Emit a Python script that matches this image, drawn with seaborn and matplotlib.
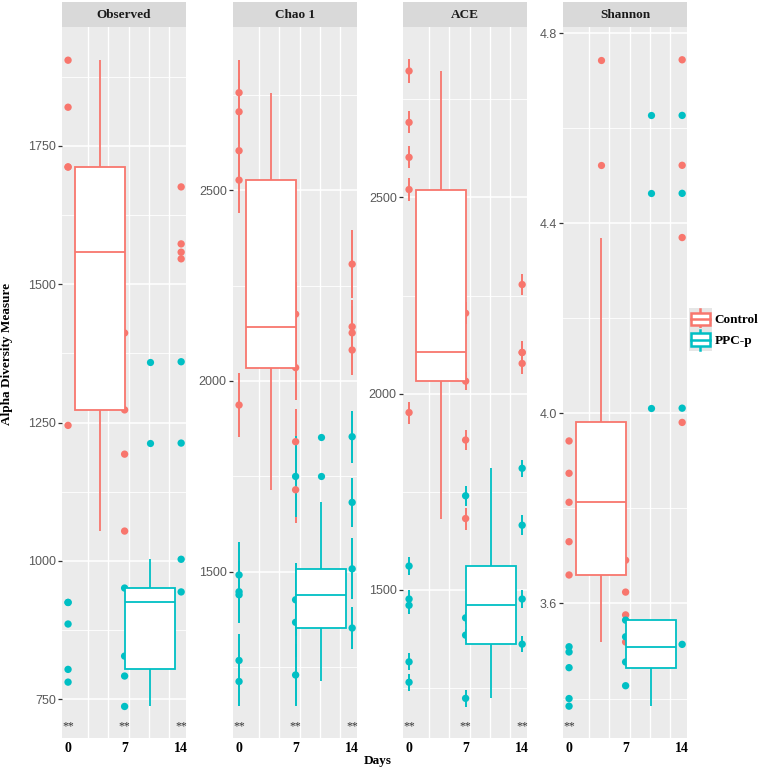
import numpy as np
import pandas as pd
import matplotlib
matplotlib.use("Agg")
import matplotlib.pyplot as plt
import seaborn as sns
from matplotlib.legend_handler import HandlerBase
from matplotlib.patches import Rectangle, Patch
from matplotlib.lines import Line2D
from matplotlib.ticker import MultipleLocator

# ---------------- data ----------------
panels = ["Observed", "Chao 1", "ACE", "Shannon"]
treatments = ["Control", "PPC-p"]
days = [0, 0, 0, 0, 0, 7, 7, 7, 7, 14, 14, 14, 14]

observed_control = [1905, 1820, 1712, 1712, 1245, 1412, 1273, 1193, 1054, 1676, 1573, 1558, 1546]
observed_ppc = [925, 925, 886, 804, 781, 951, 828, 792, 737, 1360, 1213, 1003, 944]

chao1_control = [2755, 2705, 2603, 2526, 1937, 2175, 2035, 1841, 1715, 2306, 2142, 2126, 2081]
chao1_control_se = [85, 85, 85, 85, 85, 85, 85, 85, 87, 90, 70, 70, 65]
chao1_ppc = [1492, 1448, 1440, 1268, 1213, 1750, 1427, 1368, 1230, 1854, 1682, 1508, 1353]
chao1_ppc_se = [87, 80, 74, 70, 64, 105, 95, 90, 80, 68, 65, 80, 55]

ace_control = [2822, 2691, 2602, 2520, 1952, 2205, 2032, 1882, 1682, 2278, 2105, 2105, 2077]
ace_control_se = [30, 28, 28, 30, 28, 28, 22, 25, 28, 27, 28, 28, 28]
ace_ppc = [1561, 1477, 1461, 1317, 1265, 1740, 1429, 1385, 1224, 1810, 1665, 1477, 1362]
ace_ppc_se = [22, 22, 22, 22, 22, 25, 15, 15, 22, 22, 25, 22, 20]

shannon_control = [3.942, 3.874, 3.813, 3.730, 3.660, 3.691, 3.624, 3.576, 3.519, 4.744, 4.522, 4.370, 3.981]
shannon_ppc = [3.509, 3.498, 3.465, 3.400, 3.384, 3.565, 3.530, 3.477, 3.427, 4.627, 4.463, 4.011, 3.514]

significance_days = {
    "Observed": [0, 7, 14],
    "Chao 1": [0, 7, 14],
    "ACE": [0, 7, 14],
    "Shannon": [0],
}
xtick_days = [0, 7, 14]

values = {
    "Observed": (observed_control, observed_ppc, None, None),
    "Chao 1": (chao1_control, chao1_ppc, chao1_control_se, chao1_ppc_se),
    "ACE": (ace_control, ace_ppc, ace_control_se, ace_ppc_se),
    "Shannon": (shannon_control, shannon_ppc, None, None),
}

# ---------------- layout / style ----------------
palette = {"Control": "#F8766D", "PPC-p": "#00BFC4"}
box_center = {"Control": 3.95, "PPC-p": 10.15}
box_width = 6.2
ylims = {"Observed": (680, 1965), "Chao 1": (1065, 2927), "ACE": (1123, 2934), "Shannon": (3.317, 4.813)}
ysteps = {"Observed": 250, "Chao 1": 500, "ACE": 500, "Shannon": 0.4}
yfmt = {"Observed": "{:.0f}", "Chao 1": "{:.0f}", "ACE": "{:.0f}", "Shannon": "{:.1f}"}

rows = []
for p in panels:
    c, t, cse, tse = values[p]
    for tr, vals, se in (("Control", c, cse), ("PPC-p", t, tse)):
        for i, v in enumerate(vals):
            rows.append(dict(panel=p, Treatment=tr, Day=days[i], value=v,
                             se=(se[i] if se is not None else np.nan),
                             BoxPos=box_center[tr]))
df = pd.DataFrame(rows)

W, H = 760, 769
fig = plt.figure(figsize=(W / 100, H / 100), dpi=100)
fig.patch.set_facecolor("white")

SERIF = ["Liberation Serif", "DejaVu Serif"]
SANS = ["Liberation Sans", "DejaVu Sans"]

lefts = [62, 233, 403, 563]
pw = 124
ptop, pbot = 27, 738
strip_top = 2

for p, lpx in zip(panels, lefts):
    ax = fig.add_axes([lpx / W, 1 - pbot / H, pw / W, (pbot - ptop) / H])
    ax.set_facecolor("#EBEBEB")
    ax.set_axisbelow(True)
    d = df[df.panel == p]

    # error bars (standard error of richness estimates)
    for tr in treatments:
        s = d[(d.Treatment == tr) & d.se.notna()]
        if len(s):
            ax.vlines(s.Day, s.value - s.se, s.value + s.se, color=palette[tr], lw=1.4, zorder=1)

    sns.scatterplot(data=d, x="Day", y="value", hue="Treatment", palette=palette,
                    s=28, linewidth=0, legend=False, ax=ax, zorder=1)

    for tr in treatments:
        sub = d[d.Treatment == tr]
        sns.boxplot(data=sub, x="BoxPos", y="value", native_scale=True, width=box_width,
                    color="white", saturation=1, linecolor=palette[tr], linewidth=1.3,
                    showcaps=False,
                    flierprops=dict(marker="o", markersize=5.2, markerfacecolor=palette[tr],
                                    markeredgecolor=palette[tr], markeredgewidth=0),
                    ax=ax)

    ax.set_xlim(-0.75, 14.6)
    ax.set_ylim(*ylims[p])

    # grid
    ax.set_xticks(xtick_days)
    ax.set_xticklabels([str(x) for x in xtick_days], fontfamily=SERIF, fontweight="bold",
                       fontsize=10, color="black")
    ax.set_xticks(np.arange(0, 13, 2.5), minor=True)
    step = ysteps[p]
    ax.yaxis.set_major_locator(MultipleLocator(step))
    ax.yaxis.set_minor_locator(MultipleLocator(step / 2))
    lo, hi = ylims[p]
    yt = [v for v in ax.get_yticks() if lo <= v <= hi]
    ax.set_yticks(yt)
    ax.set_yticklabels([yfmt[p].format(v) for v in yt], fontfamily=SANS, fontsize=9, color="#595959")
    ax.grid(False)
    ax.grid(True, which="minor", axis="x", color="white", lw=1.0)
    ax.grid(True, which="major", axis="y", color="white", lw=1.1)
    ax.grid(True, which="minor", axis="y", color="white", lw=0.6)
    ax.tick_params(axis="x", which="both", length=0, pad=3)
    ax.tick_params(axis="y", which="major", length=3, width=0.9, color="#333333", pad=1.5)
    ax.tick_params(axis="y", which="minor", length=0)
    for sp in ax.spines.values():
        sp.set_visible(False)
    ax.set_xlabel("")
    ax.set_ylabel("")

    # significance marks
    for dday in significance_days[p]:
        ax.text(dday, 0.016, "**", transform=ax.get_xaxis_transform(), ha="center", va="center",
                fontsize=8.5, fontfamily=SERIF, color="#333333")

    # facet strip
    sax = fig.add_axes([lpx / W, 1 - ptop / H, pw / W, (ptop - strip_top) / H])
    sax.set_facecolor("#D9D9D9")
    sax.set_xticks([])
    sax.set_yticks([])
    for sp in sax.spines.values():
        sp.set_visible(False)
    sax.text(0.5, 0.5, p, ha="center", va="center", fontsize=9.5, fontweight="bold",
             fontfamily=SERIF, color="#1A1A1A", transform=sax.transAxes)

fig.text(7 / W, 1 - 354 / H, "Alpha Diversity Measure", rotation=90, ha="center", va="center",
         fontsize=9.5, fontweight="bold", fontfamily=SERIF)
fig.text(378 / W, 1 - 761 / H, "Days", ha="center", va="center",
         fontsize=9.5, fontweight="bold", fontfamily=SERIF)


class BoxKeyHandler(HandlerBase):
    def create_artists(self, legend, orig_handle, xdescent, ydescent, width, height, fontsize, trans):
        c = orig_handle.get_edgecolor()
        # ggplot-style square key, centred on the text line
        size = 16.5
        x0 = -xdescent
        yc = -ydescent + height / 2
        y0 = yc - size / 2
        bg = Rectangle((x0, y0), size, size, facecolor="#E6E6E6", edgecolor="none", transform=trans)
        cx = x0 + size / 2
        wh = Line2D([cx, cx], [y0 + size * 0.06, y0 + size * 0.94], color=c, lw=1.8, transform=trans)
        box = Rectangle((x0 + size * 0.1, y0 + size * 0.22), size * 0.8, size * 0.56,
                        facecolor="white", edgecolor=c, lw=1.8, transform=trans)
        med = Line2D([x0 + size * 0.1, x0 + size * 0.9], [yc, yc], color=c, lw=1.8,
                     transform=trans)
        return [bg, wh, box, med]


handles = [Patch(facecolor="white", edgecolor=palette[t]) for t in treatments]
leg = fig.legend(handles, treatments, handler_map={Patch: BoxKeyHandler()},
                 loc="upper left", bbox_to_anchor=(689 / W, 1 - 311 / H), frameon=False,
                 handlelength=1.75, handleheight=1.5, handletextpad=0.2, labelspacing=0.35,
                 borderpad=0, borderaxespad=0,
                 prop=dict(family=SERIF, weight="bold", size=9.5))

fig.savefig("out.png", dpi=100)
